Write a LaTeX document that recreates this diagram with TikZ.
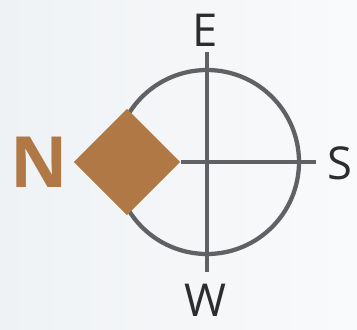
\documentclass[tikz,border=0pt]{standalone}
\usepackage{fontspec}
\setmainfont{Open Sans}
\usetikzlibrary{shapes.geometric,positioning}
\definecolor{rim}{RGB}{96,97,100}
\definecolor{north}{RGB}{176,120,68}
\definecolor{ink}{RGB}{45,45,48}
\definecolor{bgl}{RGB}{239,242,245}
\definecolor{bgr}{RGB}{249,250,251}
\begin{document}
\begin{tikzpicture}[x=0.75pt,y=-0.75pt,
  rose/.style={draw=rim,line width=3.2pt,circle,inner sep=0pt,minimum size=138pt},
  arm/.style={draw=rim,line width=3.2pt},
  needle/.style={diamond,fill=north,inner sep=0pt,minimum width=80pt,minimum height=80pt},
  pt/.style={text=ink,font=\fontsize{34}{34}\selectfont,inner sep=0pt}]
  % background
  \shade[left color=bgl,right color=bgr] (0,0) rectangle (357,329);
  \useasboundingbox (0,0) rectangle (357,329);
  \node[rose] (ring) at (207,162) {};
  \coordinate (top) at (207,52);
  \coordinate (bot) at (207,272);
  \coordinate (rgt) at (316,162);
  \draw[arm] (top) -- (bot);
  \node[needle] (nd) at (127,162) {};
  \draw[arm] (nd.east) -- (rgt);
  % labels
  \node[pt] (e) at (205,30) {E};
  \node[pt] (w) at (205,300) {W};
  \node[pt] (s) at (340,163) {S};
  \node[pt,text=north,font=\fontsize{53}{53}\selectfont\bfseries] (n) at (39,162) {N};
\end{tikzpicture}
\end{document}
